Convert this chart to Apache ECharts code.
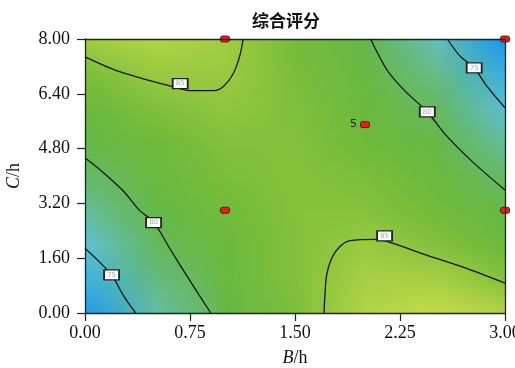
<!DOCTYPE html>
<html><head><meta charset="utf-8">
<script src="https://cdn.jsdelivr.net/npm/echarts@6/dist/echarts.min.js"></script>
<style>html,body{margin:0;padding:0;background:#fff}#c{width:515px;height:368px}</style>
</head><body><div id="c"></div>
<script>
const chartTitle = '综合评分';
const xTicks = [0, 0.75, 1.5, 2.25, 3];
const yTicks = [0, 1.6, 3.2, 4.8, 6.4, 8];
const bValues = [0, 0.5, 1, 1.5, 2, 2.5, 3];
const cValues = [0, 1, 2, 3, 4, 5, 6, 7, 8];
const scoreRows = [
  [70.8, 76.5, 80.9, 84.1, 86.0, 86.6, 86.0],
  [73.0, 78.0, 81.8, 84.4, 85.6, 85.6, 84.4],
  [75.0, 79.5, 82.6, 84.5, 85.2, 84.5, 82.6],
  [77.0, 80.8, 83.4, 84.6, 84.6, 83.4, 80.8],
  [78.9, 82.1, 84.0, 84.6, 84.0, 82.1, 78.9],
  [80.7, 83.2, 84.5, 84.5, 83.2, 80.7, 76.9],
  [82.3, 84.2, 84.9, 84.2, 82.3, 79.2, 74.7],
  [83.9, 85.2, 85.2, 83.9, 81.4, 77.6, 72.5],
  [85.4, 86.0, 85.4, 83.5, 80.3, 75.9, 70.2]
];
// contour lines [B, C]
const contour85TopLeft = [[0,7.48],[0.23,7.07],[0.47,6.78],[0.62,6.62],[0.76,6.49],[0.92,6.49],[0.99,6.62],[1.06,7.0],[1.105,7.5],[1.13,8]];
const contour80TopRight = [[2.04,8],[2.155,7.11],[2.274,6.53],[2.445,5.87],[2.583,5.17],[2.774,4.39],[3,3.59]];
const contour75TopRight = [[2.588,8],[2.679,7.5],[2.779,7.16],[2.869,6.63],[3,5.99]];
const contour80BottomLeft = [[0,4.53],[0.136,4.08],[0.279,3.54],[0.386,3.01],[0.493,2.64],[0.612,1.84],[0.731,1.06],[0.898,0]];
const contour75BottomLeft = [[0,1.89],[0.088,1.55],[0.19,1.11],[0.279,0.48],[0.362,0]];
const contour85BottomRight = [[1.707,0],[1.714,0.53],[1.726,1.11],[1.762,1.6],[1.821,1.94],[1.893,2.11],[2.083,2.15],[2.202,2.03],[2.44,1.69],[2.726,1.3],[3,0.87]];
// contour labels [B, C, level]
const contourLabels = [[0.68,6.7,85],[2.445,5.87,80],[2.78,7.16,75],[0.49,2.64,80],[0.19,1.11,75],[2.14,2.25,85]];
// design points [B, C, replicates]
const designPoints = [[1,8,1],[3,8,1],[2,5.5,5],[1,3,1],[3,3,1]];

const colorStopValues = [70, 72.5, 75, 77.5, 80, 83, 84.6, 85.6, 86.6];
const colorStopColors = ['#1590ea','#3aaee2','#60c0d2','#67bc8c','#64b84c','#6cb93a','#86c23c','#a8d044','#c4dc4a'];

function scoreColor(v) {
  const s = colorStopValues, c = colorStopColors;
  if (v <= s[0]) return c[0];
  if (v >= s[s.length-1]) return c[c.length-1];
  for (let i = 0; i < s.length-1; i++) {
    if (v <= s[i+1]) {
      const t = (v - s[i]) / (s[i+1] - s[i]);
      return echarts.color.lerp(t, [c[i], c[i+1]]);
    }
  }
}

function renderField(params, api) {
  const nx = bValues.length, ny = cValues.length;
  const cv = document.createElement('canvas');
  cv.width = nx; cv.height = ny;
  const ctx = cv.getContext('2d');
  for (let j = 0; j < ny; j++) for (let i = 0; i < nx; i++) {
    ctx.fillStyle = scoreColor(scoreRows[j][i]);
    ctx.fillRect(i, ny-1-j, 1, 1);
  }
  const hb = (bValues[1]-bValues[0])/2, hc = (cValues[1]-cValues[0])/2;
  const p0 = api.coord([bValues[0]-hb, cValues[ny-1]+hc]);
  const p1 = api.coord([bValues[nx-1]+hb, cValues[0]-hc]);
  return {type:'image', style:{image: cv, x:p0[0], y:p0[1], width:p1[0]-p0[0], height:p1[1]-p0[1]}};
}

const serif = 'Liberation Serif';
const chart = echarts.init(document.getElementById('c'), null, {renderer:'canvas'});
function contourSeries(data) {
  return {type:'line', data, smooth:0.3, symbol:'none', silent:true, z:3,
    lineStyle:{color:'#151515', width:1.3}};
}
const axisCommon = {
  axisLine:{show:true, onZero:false, lineStyle:{color:'#222', width:1.3}},
  axisTick:{show:true, inside:false, length:8, lineStyle:{color:'#222', width:1.2}},
  splitLine:{show:false}, z:10
};
chart.setOption({
  animation:false,
  backgroundColor:'#fff',
  title:{text:chartTitle, left:247, top:7, textStyle:{fontFamily:'Noto Sans CJK SC', fontSize:17, fontWeight:'bold', color:'#111'}},
  grid:{left:85, right:10, top:39, bottom:55, containLabel:false, outerBoundsMode:'none'},
  xAxis:[Object.assign({}, axisCommon, {
    type:'value', min:xTicks[0], max:xTicks[xTicks.length-1], interval:xTicks[1]-xTicks[0],
    axisLabel:{fontFamily:serif, fontSize:18, color:'#111', margin:11, formatter:v=>v.toFixed(2)},
    name:'{i|B}/h', nameLocation:'middle', nameGap:36,
    nameTextStyle:{fontFamily:serif, fontSize:18, color:'#111', rich:{i:{fontFamily:serif, fontSize:18, fontStyle:'italic', color:'#111'}}}
  }), Object.assign({}, axisCommon, {
    type:'value', position:'top', min:xTicks[0], max:xTicks[xTicks.length-1], interval:xTicks[1]-xTicks[0],
    axisTick:{show:false}, axisLabel:{show:false}
  })],
  yAxis:[Object.assign({}, axisCommon, {
    type:'value', min:yTicks[0], max:yTicks[yTicks.length-1], interval:yTicks[1]-yTicks[0],
    axisLabel:{fontFamily:serif, fontSize:18, color:'#111', margin:15, formatter:v=>v.toFixed(2)},
    name:'{i|C}/h', nameLocation:'middle', nameGap:62, nameRotate:90,
    nameTextStyle:{fontFamily:serif, fontSize:18, color:'#111', rich:{i:{fontFamily:serif, fontSize:18, fontStyle:'italic', color:'#111'}}}
  }), Object.assign({}, axisCommon, {
    type:'value', position:'right', min:yTicks[0], max:yTicks[yTicks.length-1], interval:yTicks[1]-yTicks[0],
    axisTick:{show:false}, axisLabel:{show:false}
  })],
  series:[
    {type:'custom', renderItem:renderField, data:[[1.5,4]], clip:true, silent:true, z:1},
    contourSeries(contour85TopLeft),
    contourSeries(contour80TopRight),
    contourSeries(contour75TopRight),
    contourSeries(contour80BottomLeft),
    contourSeries(contour75BottomLeft),
    contourSeries(contour85BottomRight),
    {type:'scatter', data:contourLabels, symbol:'rect', symbolSize:[15,10], z:5, silent:true,
      itemStyle:{color:'#fff', borderColor:'#222', borderWidth:1.5, opacity:1},
      label:{show:true, position:'inside', formatter:p=>String(p.value[2]), fontSize:7, color:'#aaa', fontFamily:'DejaVu Sans'}},
    {type:'scatter', data:designPoints, symbol:'roundRect', symbolSize:[9,6], z:6, silent:true, clip:false,
      itemStyle:{color:'#e8201c', borderColor:'#3a1010', borderWidth:0.8, opacity:1},
      label:{show:true, position:'left', distance:3, formatter:p=>p.value[2]>1?String(p.value[2]):'', fontSize:11, color:'#222', fontFamily:'DejaVu Sans'}}
  ]
});
</script>
</body></html>
